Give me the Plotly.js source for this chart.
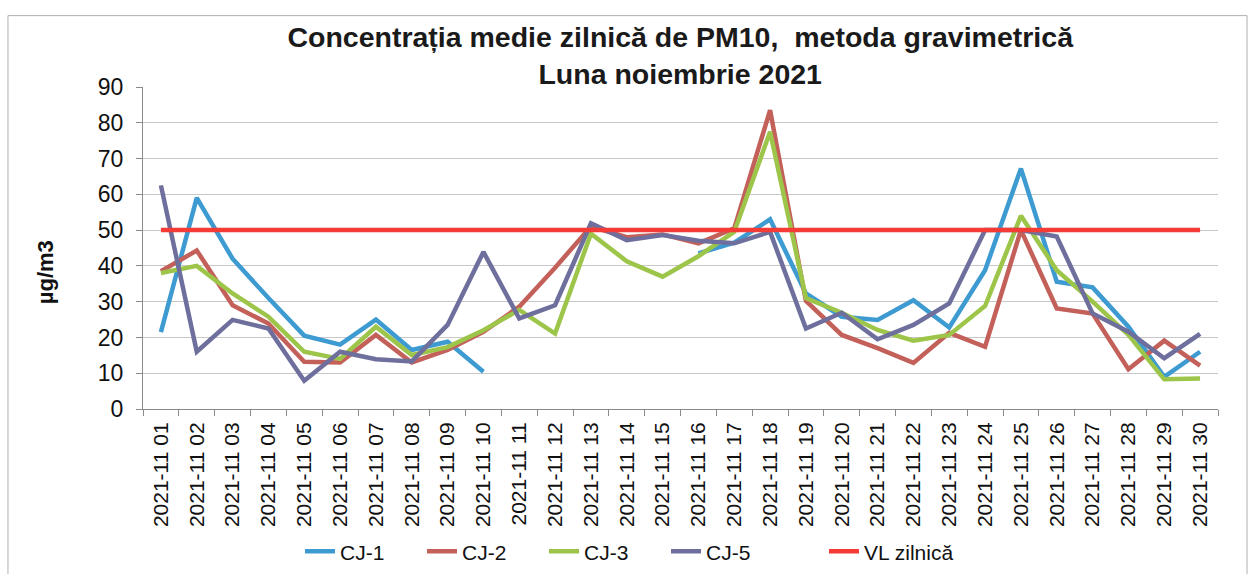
<!DOCTYPE html>
<html>
<head>
<meta charset="utf-8">
<script src="https://cdn.plot.ly/plotly-3.0.1.min.js"></script>
<style>
html,body{margin:0;padding:0;background:#fff;}
#chart{width:1255px;height:574px;}
</style>
</head>
<body>
<div id="chart"></div>
<script>
const days = ["2021-11 01","2021-11 02","2021-11 03","2021-11 04","2021-11 05","2021-11 06","2021-11 07","2021-11 08","2021-11 09","2021-11 10",
"2021-11 11","2021-11 12","2021-11 13","2021-11 14","2021-11 15","2021-11 16","2021-11 17","2021-11 18","2021-11 19","2021-11 20",
"2021-11 21","2021-11 22","2021-11 23","2021-11 24","2021-11 25","2021-11 26","2021-11 27","2021-11 28","2021-11 29","2021-11 30"];

const cj1 = [21.5, 59, 42, 31, 20.5, 18, 25, 16.5, 18.8, 10.4, null, null, null, null, null, 43.5, 46.5, 53, 32.3, 25.8, 24.9, 30.4, 22.8, 38.8, 67.2, 35.6, 34, 23, 9, 16];
const cj2 = [38.5, 44.3, 29, 23.9, 13.2, 13, 20.7, 13, 16.5, 21.6, 28.6, 39.5, 51, 48, 48.8, 46.3, 50.5, 83.5, 30.2, 20.7, 17, 12.9, 21.3, 17.4, 50, 28.1, 26.7, 11.1, 19.1, 12.1];
const cj3 = [38, 40, 32.3, 25.8, 16, 14, 23, 15.1, 17.3, 22, 27.7, 21.1, 49, 41.3, 37, 42.7, 49.5, 77.5, 31, 26.9, 22.1, 19.1, 20.7, 28.8, 54, 38.8, 30, 20.7, 8.3, 8.5];
const cj5 = [62.5, 16, 24.9, 22.5, 7.9, 16, 13.9, 13.3, 23.5, 43.9, 25.3, 29, 51.9, 47.2, 48.6, 47, 46.3, 49.5, 22.5, 26.9, 19.5, 23.5, 29.5, 50, 50, 48.2, 26.7, 21.6, 14.2, 21];
const vl  = [50,50,50,50,50,50,50,50,50,50,50,50,50,50,50,50,50,50,50,50,50,50,50,50,50,50,50,50,50,50];

const seriesNames = ["CJ-1","CJ-2","CJ-3","CJ-5","VL zilnică"];
const seriesColors = ["#3d9bd1","#c4605a","#9dc54a","#6e6f9c","#f53b35"];
const seriesData = [cj1, cj2, cj3, cj5, vl];
const seriesLegend = ["legend","legend","legend","legend","legend2"];

const traces = seriesData.map((d,i)=>({
  type:'scatter', mode:'lines', x:days, y:d, name:seriesNames[i], legend:seriesLegend[i],
  line:{color:seriesColors[i], width:4.5}, connectgaps:false
}));

const F = 'Arial, "Liberation Sans", sans-serif';
const legendBase = {orientation:'h', xref:'container', yref:'container', xanchor:'left', y:1-551.7/574, yanchor:'middle',
          font:{family:F, size:21, color:'#111'}, itemwidth:30, bgcolor:'rgba(0,0,0,0)'};
const layout = {
  width:1255, height:574,
  margin:{l:143, r:37, t:86.5, b:165},
  paper_bgcolor:'#ffffff', plot_bgcolor:'#ffffff',
  font:{family:F, color:'#111'},
  title:{text:'<b>Concentrația medie zilnică de PM10,  metoda gravimetrică<br>Luna noiembrie 2021</b>',
         font:{family:F, size:28.5, color:'#1a1a1a'}, x:0.542, xanchor:'center', y:0.918, yanchor:'top', yref:'container'},
  xaxis:{type:'category', range:[-0.5,29.5], tickangle:-90, tickfont:{family:F, size:21, color:'#111'},
         showline:true, linecolor:'#8a8a8a', linewidth:1, ticks:'outside', tickson:'boundaries', ticklen:6, tickcolor:'#8a8a8a',
         ticklabelstandoff:4, showgrid:false, zeroline:false, fixedrange:true, automargin:false},
  yaxis:{range:[0,90], dtick:10, tick0:0, tickfont:{family:F, size:23, color:'#111'},
         showline:true, linecolor:'#8a8a8a', linewidth:1, ticks:'outside', ticklen:6, tickcolor:'#8a8a8a',
         ticklabelstandoff:8, showgrid:true, gridcolor:'#c8c8c8', gridwidth:1, zeroline:false, automargin:false},
  annotations:[{text:'<b>µg/m3</b>', textangle:-90, xref:'paper', yref:'paper', x:-0.0912, y:0.4248,
                xanchor:'center', yanchor:'middle', showarrow:false, font:{family:F, size:22, color:'#111'}}],
  showlegend:true,
  legend:Object.assign({}, legendBase, {x:300/1255, entrywidth:77, entrywidthmode:'pixels'}),
  legend2:Object.assign({}, legendBase, {x:824/1255}),
  shapes:[{type:'rect', xref:'paper', yref:'paper', x0:-0.1256, x1:1.0270, y0:-0.6, y1:1.2217,
           line:{color:'#b0b0b0', width:1}, fillcolor:'rgba(0,0,0,0)', layer:'below'}]
};

Plotly.newPlot('chart', traces, layout, {displayModeBar:false, staticPlot:true});
</script>
</body>
</html>
